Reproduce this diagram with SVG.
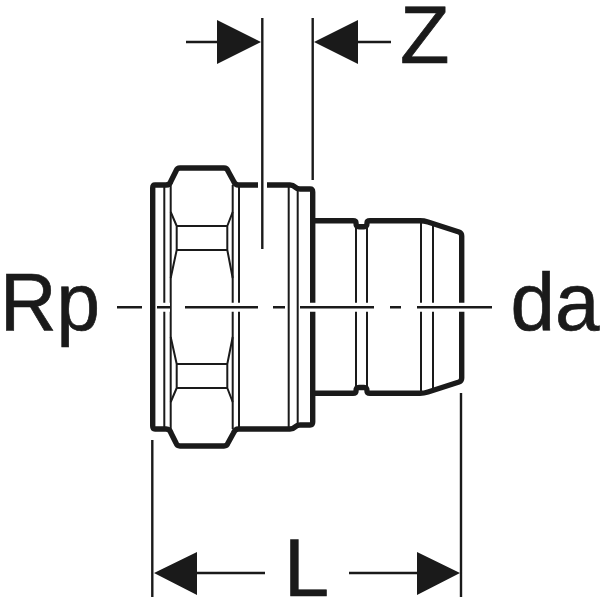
<svg xmlns="http://www.w3.org/2000/svg" width="600" height="600" viewBox="0 0 600 600">
<style>
.o{fill:none;stroke:#1a1a1a;stroke-width:5.4;stroke-linejoin:round;stroke-linecap:butt}
.t{fill:none;stroke:#1a1a1a;stroke-width:2;stroke-linecap:butt;stroke-linejoin:round}
.d{fill:none;stroke:#1a1a1a;stroke-width:2.4}
.h{fill:none;stroke:#fff;stroke-width:9}
.c{fill:none;stroke:#1a1a1a;stroke-width:2.4}
.a{fill:#1a1a1a}
text{font-family:"Liberation Sans",Arial,sans-serif;font-size:81px;fill:#1a1a1a;stroke:#1a1a1a;stroke-width:.7}
</style>
<g id="fitting">
<g id="thin-lines">
<path class="t" d="M164.300 185V429M170.700 185V429M232.700 185V429M239 185V429M288.700 185V429M297.700 189V425M356 226V388M367 226V388M421 221V393M433 224V390"/>
<path class="t" d="M170.700 212L176.700 226V250L170.700 278M232.700 212L227.300 226V250L232.700 278M176.700 226H227.300M176.700 250H227.300"/>
<path class="t" d="M170.700 337L176.700 364V388L170.700 402M232.700 337L227.300 364V388L232.700 402M176.700 364H227.300M176.700 388H227.300"/>
</g>
<g id="outline">
<path class="o" d="M258 185H238.500Q235 185 233.500 181L228 171Q227 168 224 168H180Q177 168 176 171L171 181Q170 185 166 185H155Q152.700 185 152.700 188V426Q152.700 429 155 429H166Q170 429 171 433L176 443Q177 446 180 446H224Q227 446 228 443L233.500 433Q235 429 238.500 429H290Q293 429 295 427Q297 425 300 425H310Q312.700 425 312.700 422V192Q312.700 189 310 189H300Q297 189 295 187Q293 185 290 185H267"/>
<path class="o" d="M312.700 220.700H353Q356 220.700 356 223Q356 226.700 359 226.700H364Q367 226.700 367 223Q367 220.700 370 220.700H420Q424 220.700 428 222L459 232Q461.700 233 461.700 236V378Q461.700 381 459 382L428 392Q424 393.300 420 393.300H370Q367 393.300 367 391Q367 387.500 364 387.500H359Q356 387.500 356 391Q356 393.300 353 393.300H312.700"/>
</g>
</g>
<g id="centre-line">
<path class="h" d="M157 307.300H170M185 307.300H258M273 307.300H285M300 307.300H374M390 307.300H401M417 307.300H492"/>
<path class="c" d="M117 307.300H142M157 307.300H170M185 307.300H258M273 307.300H285M300 307.300H374M390 307.300H401M417 307.300H492"/>
</g>
<g id="connectors">
<path class="d" d="M262.300 18V249M312.700 18V180M186 42H217M358 42H391M152.300 440V597M461 393V597M197 573H265M349 573H417"/>
<path class="a" d="M217 20V64L261 42ZM358 20V64L314 42ZM197 552V595L154 573ZM417 552V595L460 573Z"/>
</g>
<g id="labels">
<text x="400" y="63">Z</text>
<text x="284" y="596">L</text>
<text x="0" y="330" textLength="100" lengthAdjust="spacingAndGlyphs">Rp</text>
<text x="510.500" y="330" textLength="89" lengthAdjust="spacingAndGlyphs">da</text>
</g>
</svg>
